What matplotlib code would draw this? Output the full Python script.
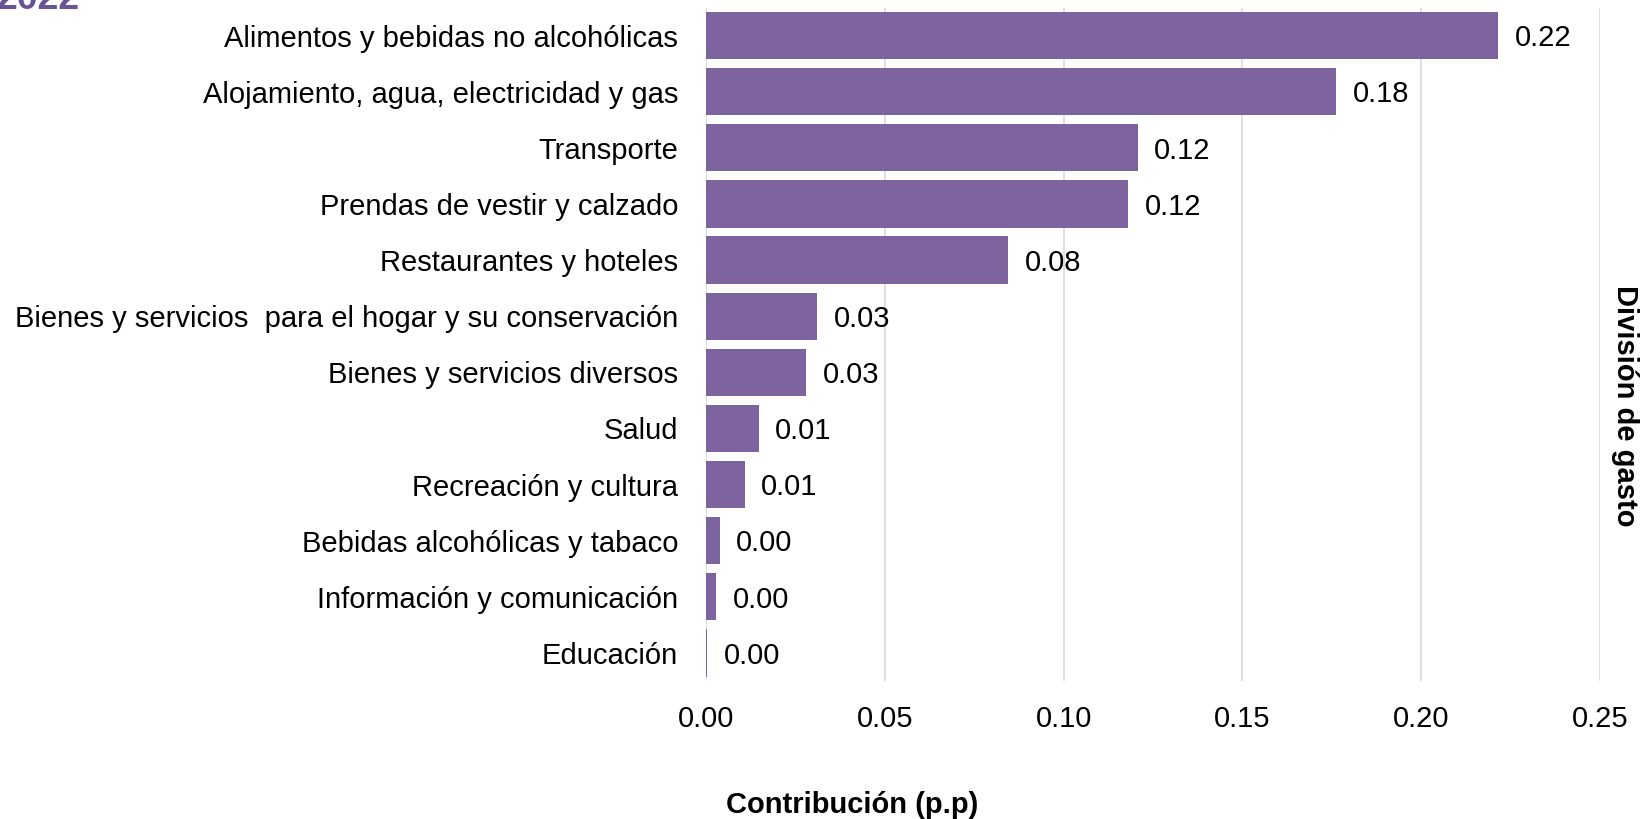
import matplotlib
matplotlib.use('Agg')
import matplotlib.pyplot as plt

plt.rcParams['font.family'] = ['Liberation Sans', 'DejaVu Sans']

categorias = ['Alimentos y bebidas no alcohólicas',
              'Alojamiento, agua, electricidad y gas',
              'Transporte',
              'Prendas de vestir y calzado',
              'Restaurantes y hoteles',
              'Bienes y servicios  para el hogar y su conservación',
              'Bienes y servicios diversos',
              'Salud',
              'Recreación y cultura',
              'Bebidas alcohólicas y tabaco',
              'Información y comunicación',
              'Educación']
contribucion = [0.2216, 0.1761, 0.1207, 0.1181, 0.0844, 0.0311, 0.0281,
                0.0147, 0.0108, 0.0038, 0.0029, 0.0003]
ticks_x = [0.00, 0.05, 0.10, 0.15, 0.20, 0.25]

morado = '#7E649E'
fs = 21

fig = plt.figure(figsize=(16.43, 8.19), dpi=100)
ax = fig.add_axes([706/1643, 1-681/819, (1600-706)/1643, (681-7.5)/819])

pos = list(range(len(categorias)))
ax.barh(pos, contribucion, height=0.84, color=morado, zorder=2)
# etiquetas de valor a la derecha de cada barra
for p, v in zip(pos, contribucion):
    ax.annotate(f'{v:.2f}', (v, p), xytext=(12, -2), textcoords='offset points',
                va='center', ha='left', fontsize=fs)

ax.set_ylim(len(categorias)-0.5, -0.5)
ax.set_xlim(0, 0.25)
ax.set_yticks(pos)
ax.set_yticklabels(categorias, fontsize=fs)
ax.set_xticks(ticks_x)
ax.set_xticklabels([f'{t:.2f}' for t in ticks_x], fontsize=fs)
ax.tick_params(length=0)
ax.tick_params(axis='y', pad=20)
ax.tick_params(axis='x', pad=17)
ax.grid(axis='x', color='#D9D9D9', linewidth=1.2, zorder=0)
for s in ax.spines.values():
    s.set_visible(False)

fig.text(852/1643, 1-805/819, 'Contribución (p.p)', ha='center', va='center',
         fontsize=fs, fontweight='bold')
fig.text(1625/1643, 1-406/819, 'División de gasto', ha='center', va='center',
         rotation=-90, fontsize=fs, fontweight='bold')
# titulo recortado en la esquina superior, como en el original
fig.text(80/1643, 1-9/819, '2022', ha='right', va='baseline',
         fontsize=27, fontweight='bold', color='#6B5294')

fig.savefig('out.png', dpi=100)
